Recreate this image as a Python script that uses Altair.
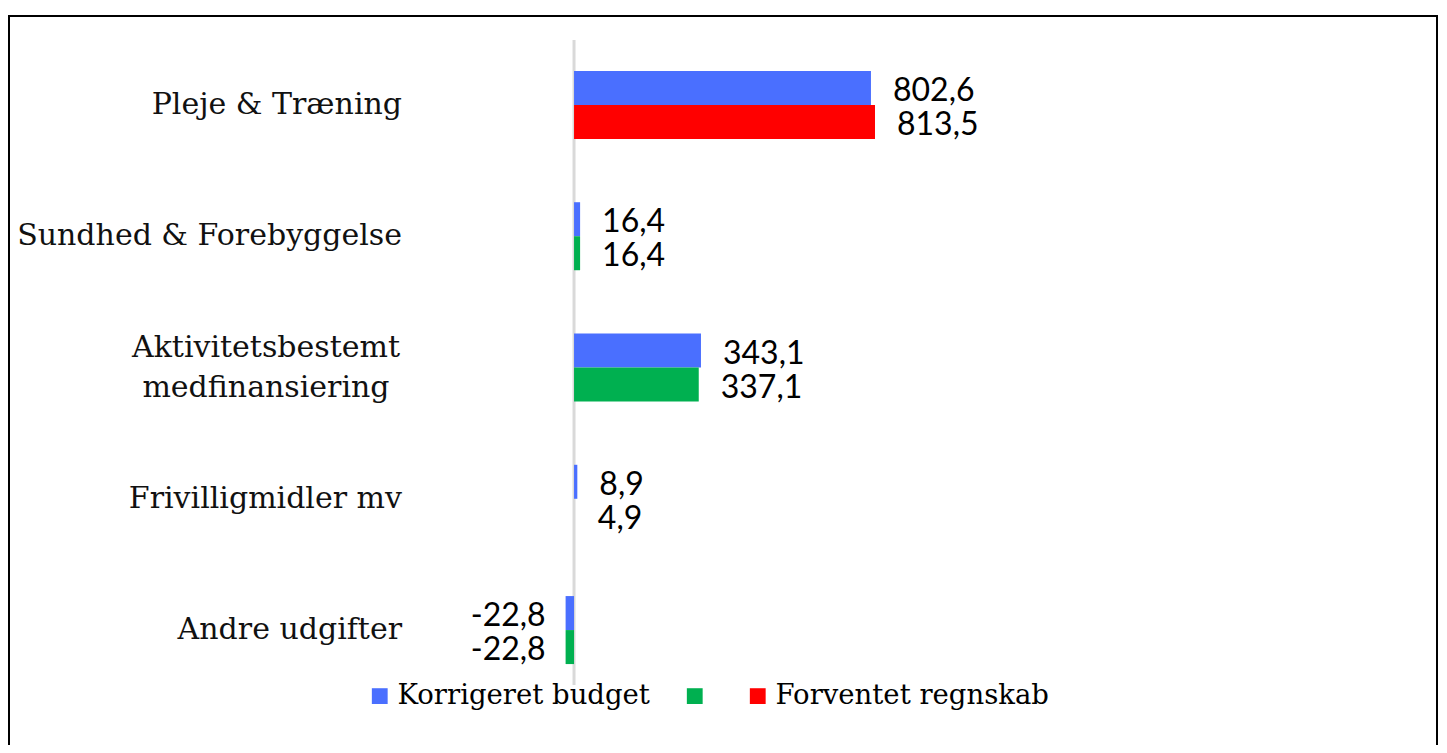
import altair as alt
import pandas as pd

categories = ["Pleje & Træning", "Sundhed & Forebyggelse", "Aktivitetsbestemt medfinansiering",
              "Frivilligmidler mv", "Andre udgifter"]
category_labels = ["Pleje & Træning", "Sundhed & Forebyggelse", "Aktivitetsbestemt|medfinansiering",
                   "Frivilligmidler mv", "Andre udgifter"]
korrigeret_budget = [802.6, 16.4, 343.1, 8.9, -22.8]
forventet = [813.5, 16.4, 337.1, 4.9, -22.8]
forventet_series = ["Forventet regnskab", "Grøn", "Grøn", "Ingen", "Grøn"]

series_domain = ["Korrigeret budget", "Grøn", "Forventet regnskab", "Ingen"]
series_colors = ["#4A6FFF", "#00B050", "#FF0000", "rgba(255,255,255,0)"]

rows = []
for i, cat in enumerate(categories):
    rows.append({"category": cat, "slot": "1", "series": "Korrigeret budget", "value": korrigeret_budget[i]})
    rows.append({"category": cat, "slot": "2", "series": forventet_series[i], "value": forventet[i]})
df = pd.DataFrame(rows)
cat_df = pd.DataFrame({"category": categories, "label": category_labels})
one = pd.DataFrame({"value": [0]})

W, H = 1431, 737
xscale = alt.Scale(domain=[-1530, 2338], nice=False, zero=False)
yscale = alt.Scale(domain=categories, paddingInner=0.482, paddingOuter=0.548, align=0.4375)
yoff = alt.YOffset("slot:N", scale=alt.Scale(paddingInner=0, paddingOuter=0))

border_top = alt.Chart(one).mark_rule(color="black", strokeWidth=2).encode(
    x=alt.value(0), x2=alt.value(W - 1), y=alt.value(8))
border_left = alt.Chart(one).mark_rule(color="black", strokeWidth=2).encode(
    x=alt.value(1), y=alt.value(8), y2=alt.value(H))
border_right = alt.Chart(one).mark_rule(color="black", strokeWidth=2).encode(
    x=alt.value(W - 2), y=alt.value(8), y2=alt.value(H))

zero_line = alt.Chart(one).mark_rule(color="#D9D9D9", strokeWidth=3).encode(
    x=alt.X("value:Q", scale=xscale, axis=None), y=alt.value(32), y2=alt.value(677))

bars = alt.Chart(df).mark_bar().encode(
    x=alt.X("value:Q", scale=xscale, axis=None),
    y=alt.Y("category:N", scale=yscale, axis=None, sort=categories),
    yOffset=yoff,
    color=alt.Color("series:N",
                    scale=alt.Scale(domain=series_domain, range=series_colors),
                    legend=alt.Legend(orient="none", legendX=358, legendY=674, direction="horizontal",
                                      title=None, values=series_domain[:3],
                                      labelExpr="datum.label == 'Grøn' ? '' : datum.label",
                                      symbolType="square", symbolSize=250, symbolStrokeWidth=0,
                                      labelFont="DejaVu Serif", labelFontSize=27.5, labelColor="black",
                                      labelLimit=600, columnPadding=31, labelOffset=4)),
)

label_calc = "(datum.value < 0 ? '-' : '') + replace(format(abs(datum.value), '.1f'), '.', ',')"
pos_text = alt.Chart(df).transform_filter("datum.value >= 0").transform_calculate(
    lab=label_calc).mark_text(align="left", baseline="middle", dx=22, dy=3, font="Lato",
                              fontSize=32, color="#000000").encode(
    x=alt.X("value:Q", scale=xscale, axis=None),
    y=alt.Y("category:N", scale=yscale, axis=None, sort=categories),
    yOffset=yoff,
    text="lab:N",
)
neg_text = alt.Chart(df).transform_filter("datum.value < 0").transform_calculate(
    lab=label_calc).mark_text(align="right", baseline="middle", dx=-20, dy=3, font="Lato",
                              fontSize=32, color="#000000").encode(
    x=alt.X("value:Q", scale=xscale, axis=None),
    y=alt.Y("category:N", scale=yscale, axis=None, sort=categories),
    yOffset=yoff,
    text="lab:N",
)

cat_text = alt.Chart(cat_df).transform_filter("indexof(datum.label, '|') < 0").mark_text(
    align="right", baseline="middle", font="DejaVu Serif", fontSize=30,
    color="#111111").encode(
    x=alt.value(394),
    y=alt.Y("category:N", scale=yscale, axis=None, sort=categories),
    text="label:N",
)
cat_text_multi = alt.Chart(cat_df).transform_filter("indexof(datum.label, '|') >= 0").mark_text(
    align="center", baseline="middle", font="DejaVu Serif", fontSize=30, lineBreak="|",
    lineHeight=40, dy=-20, color="#111111").encode(
    x=alt.value(258),
    y=alt.Y("category:N", scale=yscale, axis=None, sort=categories),
    text="label:N",
)

chart = alt.layer(border_top, border_left, border_right, zero_line, bars, pos_text, neg_text,
                  cat_text, cat_text_multi).properties(
    width=W, height=H, padding=0,
    autosize=alt.AutoSizeParams(type="none"),
).configure_view(stroke=None)

chart.save("out.html", embed_options={"renderer": "svg", "actions": False})
